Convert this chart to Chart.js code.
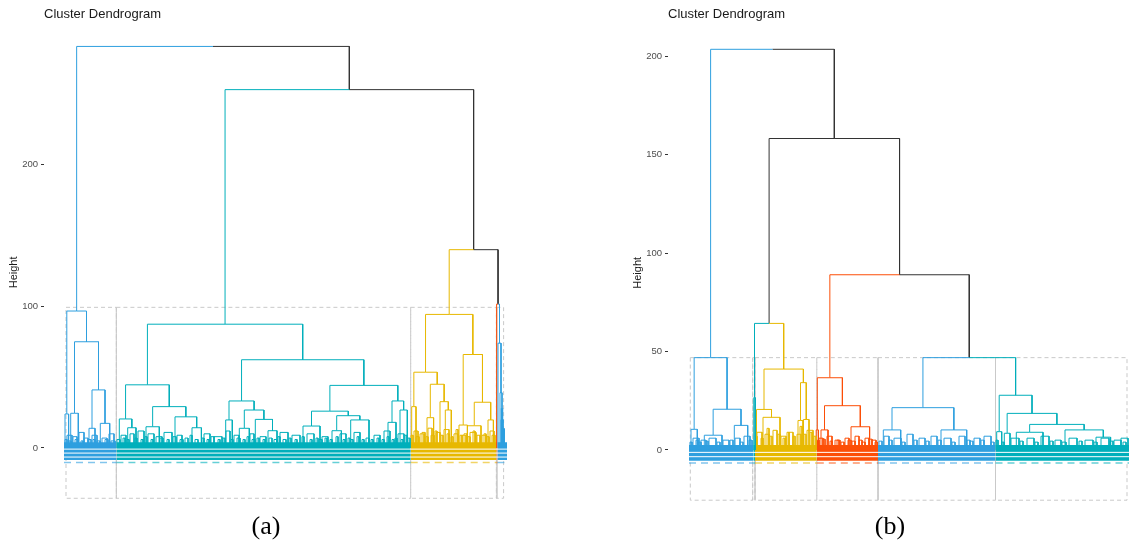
<!DOCTYPE html>
<html>
<head>
<meta charset="utf-8">
<script src="https://cdn.jsdelivr.net/npm/chart.js@4.4.1/dist/chart.umd.min.js"></script>
<style>
  html, body { margin: 0; padding: 0; background: #fff; }
  body { width: 1129px; height: 546px; position: relative; overflow: hidden; font-family: "Liberation Sans", Arial, sans-serif; }
  .panel { position: absolute; top: 0; height: 546px; }
  #panelA { left: 0; width: 560px; }
  #panelB { left: 624px; width: 505px; }
  .title { position: absolute; top: 6px; font-size: 13px; line-height: 15px; color: #1a1a1a; white-space: nowrap; }
  .caption { position: absolute; top: 511px; width: 100px; text-align: center; font-family: "Liberation Serif", "Times New Roman", serif; font-size: 26px; line-height: 30px; color: #000; }
</style>
</head>
<body>
<div class="panel" id="panelA"><canvas id="dendA" width="560" height="546"></canvas></div>
<div class="panel" id="panelB"><canvas id="dendB" width="505" height="546"></canvas></div>
<div class="title" style="left:44px">Cluster Dendrogram</div>
<div class="title" style="left:668px">Cluster Dendrogram</div>
<div class="caption" style="left:216px">(a)</div>
<div class="caption" style="left:840px">(b)</div>
<script>
// cluster colours (factoextra defaults) + black for the links above the cut
const palette = { b: '#2E9FDF', t: '#00AFBB', y: '#E7B800', r: '#FC4E07', k: '#333333' };

// ---------- (a) ----------
// x is the leaf order position, y is the merge height
const ticksA = [0, 100, 200];
// [node, left child, right child, height, left colour, right colour]
// a child is either a leaf position (number) or an earlier node
const mergesA = [
    ['b9', 1, 4.6, 24, 'b', 'b'],
    ['b7', 6.7, 14.3, 24.5, 'b', 'b'],
    ['b6', 25, 31, 13.9, 'b', 'b'],
    ['b5', 36.3, 45.7, 17.4, 'b', 'b'],
    ['b4', 'b6', 'b5', 41, 'b', 'b'],
    ['b3', 'b7', 'b4', 75, 'b', 'b'],
    ['b2', 'b9', 'b3', 96.7, 'b', 'b'],
    ['tL3', 63.7, 72, 14.3, 't', 't'],
    ['tL2', 55.3, 'tL3', 20.5, 't', 't'],
    ['tL5', 82, 95.3, 15, 't', 't'],
    ['tL7', 128, 137.4, 14.3, 't', 't'],
    ['tL6', 111, 'tL7', 22, 't', 't'],
    ['tL4', 'tL5', 'tL6', 29.2, 't', 't'],
    ['tL1', 'tL2', 'tL4', 44.6, 't', 't'],
    ['tR3', 161.7, 168.3, 19.8, 't', 't'],
    ['tR5', 175.3, 185.3, 13.9, 't', 't'],
    ['tR7', 204, 213, 12.2, 't', 't'],
    ['tR6', 191.3, 'tR7', 20.2, 't', 't'],
    ['tR4', 'tR5', 'tR6', 26.8, 't', 't'],
    ['tR2', 'tR3', 'tR4', 33.2, 't', 't'],
    ['tR10', 239, 256, 15.5, 't', 't'],
    ['tR12', 268, 277.4, 12.2, 't', 't'],
    ['tR13', 286.7, 305, 19.8, 't', 't'],
    ['tR11', 'tR12', 'tR13', 22.8, 't', 't'],
    ['tR9', 'tR10', 'tR11', 26, 't', 't'],
    ['tR15', 324, 332, 18.1, 't', 't'],
    ['tR16', 336, 343.3, 26.8, 't', 't'],
    ['tR14', 'tR15', 'tR16', 33.2, 't', 't'],
    ['tR8', 'tR9', 'tR14', 44.2, 't', 't'],
    ['tR1', 'tR2', 'tR8', 62.3, 't', 't'],
    ['t0', 'tL1', 'tR1', 87.4, 't', 't'],
    ['y2', 347.7, 352, 29.2, 'y', 'y'],
    ['y4', 363, 369.6, 21.4, 'y', 'y'],
    ['y6', 381.3, 387.3, 26.8, 'y', 'y'],
    ['y5', 376, 'y6', 32.7, 'y', 'y'],
    ['y3', 'y4', 'y5', 45, 'y', 'y'],
    ['y1', 'y2', 'y3', 53.5, 'y', 'y'],
    ['y9', 395, 403.4, 16.2, 'y', 'y'],
    ['y10', 403.5, 417, 15.7, 'y', 'y'],
    ['y11', 424, 429.4, 19.8, 'y', 'y'],
    ['y8', 'y10', 'y11', 32.3, 'y', 'y'],
    ['y7', 'y9', 'y8', 66, 'y', 'y'],
    ['y0', 'y1', 'y7', 94.3, 'y', 'y'],
    ['s3', 437, 439, 20, 'b', 'b'],
    ['s2', 436, 's3', 39, 'b', 'b'],
    ['s1', 434, 's2', 74, 'b', 'b'],
    ['s0', 432.6, 's1', 101.6, 'r', 'b'],
    ['n3', 'y0', 's0', 140, 'y', 'k'],
    ['n2', 't0', 'n3', 253, 't', 'k'],
    ['root', 'b2', 'n2', 283.5, 'b', 'k'],
];
// small merges near the leaves: [left, right, height, colour]
const fuzzA = [
    [3, 8, 9, 'b'], [9, 13, 8, 'b'], [15, 20, 11, 'b'], [20, 24, 7, 'b'], [24, 27, 6, 'b'],
    [28, 33, 9, 'b'], [38, 43, 7, 'b'], [45, 50, 10, 'b'],
    [1, 3, 6, 'b'], [5, 7, 5, 'b'], [11, 14, 6, 'b'], [17, 19, 5, 'b'], [29, 31, 6, 'b'],
    [33, 36, 5, 'b'], [41, 44, 6, 'b'], [47, 51, 5, 'b'],
    [57, 62, 9, 't'], [66, 70, 10, 't'], [74, 80, 12, 't'], [84, 90, 10, 't'], [92, 98, 8, 't'],
    [100, 108, 11, 't'], [113, 118, 9, 't'], [140, 146, 10, 't'], [150, 158, 8, 't'], [162, 166, 12, 't'],
    [170, 175, 9, 't'], [186, 190, 10, 't'], [196, 202, 8, 't'], [216, 224, 11, 't'], [228, 236, 9, 't'],
    [243, 250, 10, 't'], [258, 264, 8, 't'], [276, 282, 10, 't'], [290, 296, 11, 't'], [310, 316, 9, 't'],
    [320, 326, 12, 't'], [334, 340, 10, 't'],
    [53, 56, 6, 't'], [59, 61, 7, 't'], [63, 65, 6, 't'], [71, 73, 7, 't'], [77, 79, 6, 't'], [81, 83, 8, 't'],
    [87, 89, 6, 't'], [96, 99, 7, 't'], [103, 105, 6, 't'], [109, 112, 8, 't'], [116, 119, 6, 't'],
    [121, 124, 7, 't'], [126, 128, 9, 't'], [131, 134, 6, 't'], [138, 140, 7, 't'], [143, 145, 6, 't'],
    [147, 150, 8, 't'], [154, 156, 6, 't'], [159, 161, 7, 't'], [167, 169, 6, 't'], [173, 176, 7, 't'],
    [179, 181, 6, 't'], [183, 185, 8, 't'], [188, 191, 6, 't'], [193, 195, 7, 't'], [199, 201, 6, 't'],
    [205, 208, 7, 't'], [210, 213, 6, 't'], [214, 216, 8, 't'], [219, 222, 6, 't'], [225, 227, 7, 't'],
    [231, 233, 6, 't'], [238, 240, 8, 't'], [246, 248, 6, 't'], [252, 254, 7, 't'], [255, 258, 6, 't'],
    [261, 263, 7, 't'], [266, 268, 6, 't'], [272, 274, 8, 't'], [279, 281, 6, 't'], [284, 286, 7, 't'],
    [287, 289, 6, 't'], [293, 295, 8, 't'], [298, 300, 6, 't'], [302, 305, 7, 't'], [307, 309, 6, 't'],
    [313, 315, 7, 't'], [318, 320, 6, 't'], [323, 325, 8, 't'], [328, 330, 6, 't'], [331, 333, 7, 't'],
    [337, 339, 6, 't'], [341, 343, 9, 't'], [344, 346, 7, 't'],
    [350, 354, 12, 'y'], [356, 360, 10, 'y'], [364, 368, 14, 'y'], [372, 376, 11, 'y'], [380, 385, 13, 'y'],
    [390, 394, 10, 'y'], [398, 402, 9, 'y'], [406, 412, 11, 'y'], [418, 422, 9, 'y'], [426, 430, 12, 'y'],
    [347, 349, 9, 'y'], [352, 355, 8, 'y'], [358, 361, 11, 'y'], [362, 364, 8, 'y'], [367, 370, 9, 'y'],
    [371, 373, 12, 'y'], [377, 379, 9, 'y'], [383, 385, 10, 'y'], [387, 389, 8, 'y'], [392, 394, 13, 'y'],
    [396, 398, 9, 'y'], [400, 403, 10, 'y'], [404, 406, 8, 'y'], [409, 411, 12, 'y'], [413, 416, 9, 'y'],
    [420, 422, 10, 'y'], [423, 425, 8, 'y'], [428, 431, 9, 'y'],
];
// leaf ranges of each cluster: [from, to, colour]
const clustersA = [[0, 52.4, 'b'], [52.4, 346.7, 't'], [346.7, 432.4, 'y'], [432.4, 433.4, 'r'], [433.4, 443, 'b']];
// tightly packed leaves that read as a solid block: [from, to, top, colour]
const clumpsA = [[436.5, 439.5, 28, 'b'], [438, 441, 14, 'b']];
const boxesA = [[2, 52.4], [52.4, 346.7], [346.7, 432.4], [432.4, 439.6]];
const solidEdgesA = [52.4, 433];
const cutA = 99.3;
const boxBottomA = -35.5;
const leafBandA = [4, -8.5];
const leafStripesA = [-0.8, -3.6, -6.4];
const leafSparseA = -10.3;

// ---------- (b) ----------
const ticksB = [0, 50, 100, 150, 200];
const mergesB = [
    ['bb5', 2, 8.3, 10.5, 'b', 'b'],
    ['bb4', 15.3, 33, 7.5, 'b', 'b'],
    ['bb3', 45.3, 58.7, 12.5, 'b', 'b'],
    ['bb2', 'bb4', 'bb3', 20.7, 'b', 'b'],
    ['bb1', 'bb5', 'bb2', 46.9, 'b', 'b'],
    ['tt', 64.8, 66.2, 26.6, 't', 't'],
    ['yB3', 74, 91, 16.6, 'y', 'y'],
    ['yB2', 67.5, 'yB3', 20.6, 'y', 'y'],
    ['yB5', 109, 114, 15, 'y', 'y'],
    ['yB6', 114.5, 120, 15.5, 'y', 'y'],
    ['yB4', 'yB5', 'yB6', 34.2, 'y', 'y'],
    ['yB1', 'yB2', 'yB4', 41.1, 'y', 'y'],
    ['ny', 'tt', 'yB1', 64.3, 't', 'y'],
    ['rB2', 127.2, 129.4, 10.2, 'r', 'r'],
    ['rB4', 132, 139, 10.2, 'r', 'r'],
    ['rB5', 162, 180.6, 11.8, 'r', 'r'],
    ['rB3', 'rB4', 'rB5', 22.5, 'r', 'r'],
    ['rB1', 'rB2', 'rB3', 36.7, 'r', 'r'],
    ['bB2', 194.3, 211.7, 10.2, 'b', 'b'],
    ['bB3', 252, 277.7, 10.2, 'b', 'b'],
    ['bB1', 'bB2', 'bB3', 21.5, 'b', 'b'],
    ['tB2', 307.7, 312.7, 9.3, 't', 't'],
    ['tB4', 315.3, 321, 8.5, 't', 't'],
    ['tB6', 327.3, 354, 9, 't', 't'],
    ['tB8', 407, 421.6, 6.5, 't', 't'],
    ['tB7', 376, 'tB8', 10.2, 't', 't'],
    ['tB5', 'tB6', 'tB7', 13, 't', 't'],
    ['tB3', 'tB4', 'tB5', 18.6, 't', 't'],
    ['tB1', 'tB2', 'tB3', 27.8, 't', 't'],
    ['nb4', 'bB1', 'tB1', 46.9, 'b', 't'],
    ['nb3', 'rB1', 'nb4', 89, 'r', 'k'],
    ['nb2', 'ny', 'nb3', 158.2, 'k', 'k'],
    ['rootB', 'bb1', 'nb2', 203.5, 'b', 'k'],
];
const fuzzB = [
    [4, 10, 6, 'b'], [12, 17, 5, 'b'], [20, 27, 6, 'b'], [34, 40, 5, 'b'], [46, 51, 6, 'b'], [55, 61, 7, 'b'],
    [1, 3, 4, 'b'], [7, 9, 5, 'b'], [10, 12, 4, 'b'], [17, 19, 4.5, 'b'], [28, 31, 4, 'b'], [41, 44, 5, 'b'],
    [51, 54, 4, 'b'], [60, 63, 5, 'b'],
    [68, 73, 9, 'y'], [76, 80, 8, 'y'], [84, 88, 10, 'y'], [92, 97, 7, 'y'], [100, 104, 9, 'y'],
    [108, 112, 8, 'y'], [118, 124, 10, 'y'],
    [66.5, 68, 7, 'y'], [72, 74, 6, 'y'], [78, 80, 11, 'y'], [81, 83, 7, 'y'], [89, 91, 8, 'y'], [94, 96, 6, 'y'],
    [98, 100, 9, 'y'], [104, 106, 7, 'y'], [111, 113, 12, 'y'], [115, 117, 8, 'y'], [121, 123, 9, 'y'],
    [125, 127, 7, 'y'],
    [130, 134, 6, 'r'], [138, 143, 7, 'r'], [146, 150, 5, 'r'], [156, 160, 6, 'r'], [166, 170, 7, 'r'],
    [176, 180, 6, 'r'], [183, 187, 5, 'r'],
    [128.5, 130, 5, 'r'], [134, 136, 5.5, 'r'], [141, 143, 4.5, 'r'], [148, 151, 5, 'r'], [152, 155, 4, 'r'],
    [159, 162, 5, 'r'], [163, 166, 4.5, 'r'], [170, 173, 5, 'r'], [173, 176, 4, 'r'], [180, 183, 5.5, 'r'],
    [186, 188.5, 4, 'r'],
    [195, 200, 7, 'b'], [205, 212, 6, 'b'], [218, 224, 8, 'b'], [230, 236, 6, 'b'], [242, 248, 7, 'b'],
    [255, 262, 6, 'b'], [270, 276, 7, 'b'], [285, 291, 6, 'b'], [295, 302, 7, 'b'],
    [190, 193, 4.5, 'b'], [200, 203, 5, 'b'], [213, 216, 4, 'b'], [225, 228, 5, 'b'], [237, 240, 4.5, 'b'],
    [249, 252, 5, 'b'], [263, 266, 4, 'b'], [278, 281, 5, 'b'], [281, 284, 4.5, 'b'], [292, 295, 5, 'b'],
    [302, 305, 4, 'b'],
    [322, 330, 6, 't'], [338, 345, 6, 't'], [352, 360, 7, 't'], [366, 372, 5, 't'], [380, 388, 6, 't'],
    [396, 404, 5, 't'], [412, 420, 6, 't'], [425, 432, 5, 't'], [432, 439, 6, 't'],
    [307, 309, 5, 't'], [313, 315, 4, 't'], [331, 334, 4.5, 't'], [346, 349, 4, 't'], [361, 364, 4.5, 't'],
    [373, 377, 4, 't'], [390, 393, 4.5, 't'], [405, 408, 4, 't'], [421, 424, 4.5, 't'], [434, 437, 4, 't'],
];
const clustersB = [[0, 64.3, 'b'], [64.3, 66, 't'], [66, 127.8, 'y'], [127.8, 189, 'r'], [189, 306.5, 'b'], [306.5, 440, 't']];
const clumpsB = [];
const boxesB = [[1.3, 63.7], [63.7, 66], [66, 127.8], [127.8, 189], [189, 306.5], [306.5, 438]];
const solidEdgesB = [66, 189];
const cutB = 46.9;
const boxBottomB = -25.5;
const leafBandB = [2.5, -5.5];
const leafStripesB = [-1.2, -3.4];
const leafSparseB = -6.6;

Chart.defaults.font.family = '"Liberation Sans", Arial, sans-serif';

function buildDatasets(spec) {
    const nodes = {};
    const seg = {};
    Object.keys(palette).forEach((k) => { seg[k] = []; });
    const child = (c) => (typeof c === 'number' ? { x: c, h: 0 } : nodes[c]);

    spec.merges.forEach(([id, l, r, h, cl, cr]) => {
        const L = child(l);
        const R = child(r);
        const mid = (L.x + R.x) / 2;
        nodes[id] = { x: mid, h: h };
        seg[cl].push({ x: L.x, y: L.h }, { x: L.x, y: h }, { x: mid, y: h }, { x: mid, y: null });
        seg[cr].push({ x: mid, y: h }, { x: R.x, y: h }, { x: R.x, y: R.h }, { x: R.x, y: null });
    });
    spec.fuzz.forEach(([x0, x1, h, c]) => {
        seg[c].push({ x: x0, y: 0 }, { x: x0, y: h }, { x: x1, y: h }, { x: x1, y: 0 }, { x: x1, y: null });
    });

    const sets = [];
    Object.keys(seg).forEach((k) => {
        if (seg[k].length) {
            sets.push({ data: seg[k], borderColor: palette[k], borderWidth: 1, fill: false, order: 1 });
        }
    });

    // dense leaves and their labels
    const area = (x0, x1, top, c) => ({
        data: [{ x: x0, y: top }, { x: x1, y: top }],
        borderWidth: 0, borderColor: 'rgba(0,0,0,0)', backgroundColor: palette[c],
        fill: { value: spec.band[1] }, order: 4,
    });
    spec.clusters.forEach(([x0, x1, c]) => {
        sets.push(area(x0, x1, spec.band[0], c));
        sets.push({
            data: [{ x: x0, y: spec.sparse }, { x: x1, y: spec.sparse }],
            borderColor: palette[c] + '99', borderWidth: 1.5, borderDash: [7, 5], fill: false, order: 4,
        });
    });
    spec.clumps.forEach(([x0, x1, top, c]) => sets.push(area(x0, x1, top, c)));
    const last = spec.clusters[spec.clusters.length - 1][1];
    spec.stripes.forEach((s) => {
        sets.push({ data: [{ x: 0, y: s }, { x: last, y: s }], borderColor: '#ffffff', borderWidth: 1, fill: false, order: 3 });
    });

    // cut rectangles
    const rect = [];
    spec.boxes.forEach(([x0, x1]) => {
        rect.push({ x: x0, y: spec.cut }, { x: x1, y: spec.cut }, { x: x1, y: spec.bottom },
            { x: x0, y: spec.bottom }, { x: x0, y: spec.cut }, { x: x0, y: null });
    });
    sets.push({ data: rect, borderColor: '#c9c9c9', borderWidth: 1, borderDash: [4, 3], fill: false, order: 5 });
    const edges = [];
    spec.solidEdges.forEach((x) => {
        edges.push({ x: x, y: spec.cut }, { x: x, y: spec.bottom }, { x: x, y: null });
    });
    sets.push({ data: edges, borderColor: '#d4d4d4', borderWidth: 1, fill: false, order: 5 });
    return sets;
}

function makeChart(canvasId, datasets, cfg) {
    return new Chart(document.getElementById(canvasId), {
        type: 'line',
        data: { datasets: datasets },
        options: {
            responsive: false,
            animation: false,
            events: [],
            layout: { padding: cfg.padding },
            elements: { point: { radius: 0 }, line: { tension: 0, borderJoinStyle: 'miter' } },
            plugins: { legend: { display: false }, tooltip: { enabled: false } },
            scales: {
                x: { type: 'linear', display: false, min: cfg.xMin, max: cfg.xMax },
                y: {
                    type: 'linear',
                    min: cfg.yMin,
                    max: cfg.yMax,
                    afterBuildTicks: (scale) => { scale.ticks = cfg.ticks.map((v) => ({ value: v })); },
                    afterFit: (scale) => { scale.width = 44; },
                    border: { display: false },
                    grid: { drawOnChartArea: false, drawTicks: true, tickLength: 3, color: '#333333' },
                    ticks: { color: '#4d4d4d', padding: 3, font: { size: 9.5 } },
                    title: {
                        display: true, text: 'Height', color: '#1a1a1a',
                        font: { size: 11 }, padding: { top: 7, bottom: 0 },
                    },
                },
            },
        },
    });
}

makeChart('dendA', buildDatasets({
    merges: mergesA, fuzz: fuzzA, clusters: clustersA, clumps: clumpsA, boxes: boxesA, solidEdges: solidEdgesA,
    cut: cutA, bottom: boxBottomA, band: leafBandA, stripes: leafStripesA, sparse: leafSparseA,
}), {
    ticks: ticksA, xMin: -20, xMax: 463, yMin: -40, yMax: 288,
    padding: { top: 40.05, bottom: 41.35, left: 0, right: 33 },
});

makeChart('dendB', buildDatasets({
    merges: mergesB, fuzz: fuzzB, clusters: clustersB, clumps: clumpsB, boxes: boxesB, solidEdges: solidEdgesB,
    cut: cutB, bottom: boxBottomB, band: leafBandB, stripes: leafStripesB, sparse: leafSparseB,
}), {
    ticks: ticksB, xMin: -21, xMax: 440, yMin: -28, yMax: 208,
    padding: { top: 40.45, bottom: 40.87, left: 0, right: 0 },
});
</script>
</body>
</html>
